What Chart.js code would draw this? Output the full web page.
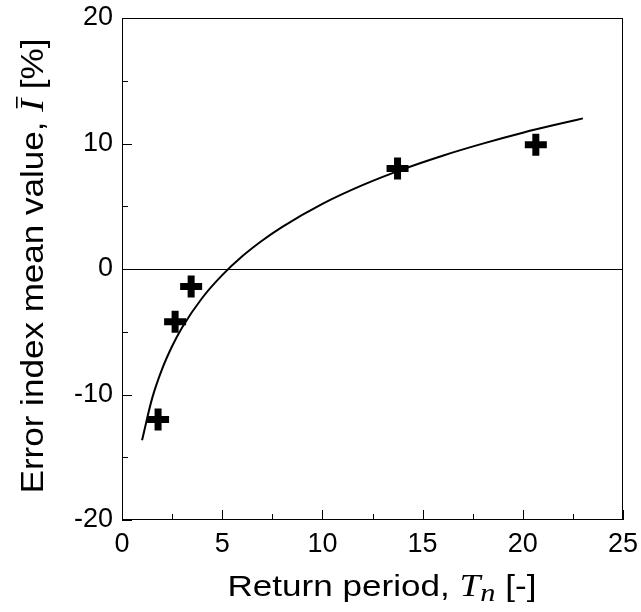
<!DOCTYPE html>
<html lang="en">
<head>
    <meta charset="UTF-8">
    <title>Error index mean value vs return period</title>
    <script src="https://cdn.jsdelivr.net/npm/chart.js"></script>
    <style>
        body { margin: 0; background: #fff; }
        .wrap { width: 641px; height: 612px; position: relative; }
    </style>
</head>
<body>
    <div class="wrap"><canvas id="chart"></canvas></div>

    <script>
        // measured points (return period, mean error index %)
        const periodos = [1.8, 2.65, 3.45, 13.75, 20.65];
        const errores = [-12.0, -4.2, -1.4, 8.0, 9.9];

        // fitted curve
        const curvaX = [1, 1.5, 2, 2.5, 3, 4, 5, 6, 7, 8, 10, 12, 14, 16, 18, 20, 22, 23];
        const curvaY = [-13.65, -10.33, -7.98, -6.16, -4.66, -2.31, -0.49, 1.01, 2.27, 3.36, 5.19, 6.68, 7.94, 9.03, 9.99, 10.86, 11.63, 12.0];

        const ticksX = [0, 5, 10, 15, 20, 25];
        const ticksY = [-20, -10, 0, 10, 20];

        const SANS = 'Arial, "Liberation Sans", sans-serif';
        const SERIF = '"Times New Roman", "Liberation Serif", serif';

        // draws a title made of pieces in different fonts, stretched to a given length
        function tituloMixto(ctx, partes, largo) {
            let w = 0;
            partes.forEach(p => { ctx.font = p.f; w += ctx.measureText(p.t).width; });
            const k = largo / w;
            ctx.scale(k, 1);
            let cx = -w / 2;
            partes.forEach(p => {
                ctx.font = p.f;
                const pw = ctx.measureText(p.t).width;
                ctx.fillText(p.t, cx, p.dy || 0);
                if (p.bar) ctx.fillRect(cx + 3, -27, pw - 1, 1.6);
                cx += pw;
            });
        }

        // inward ticks, full box and the mixed-font axis titles
        const marcoPlugin = {
            id: 'marco',
            afterDraw(chart) {
                const { ctx, chartArea: a, scales } = chart;
                const x = scales.x, y = scales.y;
                ctx.save();
                ctx.strokeStyle = '#000';
                ctx.lineWidth = 1;
                ctx.strokeRect(a.left + 0.5, a.top + 0.5, a.right - a.left - 1, a.bottom - a.top - 1);

                ctx.beginPath();
                for (let v = 0; v <= 25; v += 2.5) {
                    const px = Math.round(x.getPixelForValue(v)) + 0.5;
                    const len = (v % 5 === 0) ? 10 : 6;
                    ctx.moveTo(px, a.bottom);
                    ctx.lineTo(px, a.bottom - len);
                }
                for (let v = -20; v <= 20; v += 5) {
                    const py = Math.round(y.getPixelForValue(v)) + 0.5;
                    const len = (v % 10 === 0) ? 10 : 6;
                    ctx.moveTo(a.left, py);
                    ctx.lineTo(a.left + len, py);
                }
                ctx.stroke();

                ctx.fillStyle = '#000';
                ctx.textBaseline = 'alphabetic';

                // x title
                ctx.save();
                ctx.translate(382, 596);
                tituloMixto(ctx, [
                    { t: 'Return period, ', f: '30px ' + SANS },
                    { t: 'T', f: 'italic 32px ' + SERIF },
                    { t: 'n', f: 'italic 26px ' + SERIF, dy: 5 },
                    { t: ' [-]', f: '30px ' + SANS }
                ], 309);
                ctx.restore();

                // y title, rotated
                ctx.save();
                ctx.translate(43, 266);
                ctx.rotate(-Math.PI / 2);
                tituloMixto(ctx, [
                    { t: 'Error index mean value, ', f: '31px ' + SANS },
                    { t: 'I', f: 'italic 34px ' + SERIF, bar: true },
                    { t: ' [%]', f: '31px ' + SANS }
                ], 455);
                ctx.restore();
                ctx.restore();
            }
        };

        const sinPadding = s => {
            s.paddingTop = 0; s.paddingBottom = 0; s.paddingLeft = 0; s.paddingRight = 0;
        };

        const ctx = document.getElementById('chart').getContext('2d');
        new Chart(ctx, {
            type: 'scatter',
            data: {
                datasets: [
                    {
                        label: 'Fit',
                        type: 'line',
                        data: curvaX.map((v, i) => ({ x: v, y: curvaY[i] })),
                        borderColor: '#000',
                        borderWidth: 2,
                        pointRadius: 0,
                        cubicInterpolationMode: 'monotone',
                        fill: false
                    },
                    {
                        label: 'Data',
                        data: periodos.map((v, i) => ({ x: v, y: errores[i] })),
                        pointStyle: 'cross',
                        pointRadius: 11,
                        pointHoverRadius: 11,
                        borderColor: '#000',
                        backgroundColor: '#000',
                        borderWidth: 7
                    }
                ]
            },
            options: {
                responsive: true,
                maintainAspectRatio: false,
                animation: false,
                layout: { padding: { top: 15, right: 15, left: 0, bottom: 0 } },
                plugins: {
                    legend: { display: false },
                    tooltip: { enabled: false }
                },
                scales: {
                    x: {
                        type: 'linear',
                        min: 0,
                        max: 25,
                        afterBuildTicks: s => { s.ticks = ticksX.map(v => ({ value: v })); },
                        afterFit: s => { s.height = 92; sinPadding(s); },
                        grid: { display: false, drawTicks: false },
                        border: { display: false },
                        ticks: { color: '#000', font: { family: SANS, size: 27 }, padding: 8, maxRotation: 0 }
                    },
                    y: {
                        type: 'linear',
                        min: -20,
                        max: 20,
                        afterBuildTicks: s => { s.ticks = ticksY.map(v => ({ value: v })); },
                        afterFit: s => { s.width = 122; sinPadding(s); },
                        grid: {
                            drawTicks: false,
                            color: c => c.tick && c.tick.value === 0 ? '#000' : 'rgba(0,0,0,0)',
                            lineWidth: 1
                        },
                        border: { display: false },
                        ticks: { color: '#000', font: { family: SANS, size: 27 }, padding: 9 }
                    }
                }
            },
            plugins: [marcoPlugin]
        });
    </script>
</body>
</html>
